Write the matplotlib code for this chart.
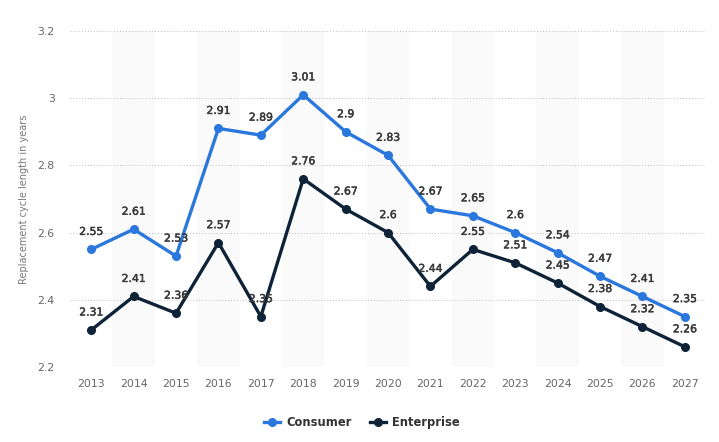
import numpy as np
import matplotlib

matplotlib.use("Agg")
import matplotlib.pyplot as plt
import matplotlib.patheffects as pe
from matplotlib.lines import Line2D

# ---------- data ----------
YEARS = ["2013", "2014", "2015", "2016", "2017", "2018", "2019", "2020",
         "2021", "2022", "2023", "2024", "2025", "2026", "2027"]
CONSUMER = [2.55, 2.61, 2.53, 2.91, 2.89, 3.01, 2.9, 2.83,
            2.67, 2.65, 2.6, 2.54, 2.47, 2.41, 2.35]
ENTERPRISE = [2.31, 2.41, 2.36, 2.57, 2.35, 2.76, 2.67, 2.6,
              2.44, 2.55, 2.51, 2.45, 2.38, 2.32, 2.26]
Y_TICKS = [2.2, 2.4, 2.6, 2.8, 3.0, 3.2]
Y_TICK_LABELS = ["2.2", "2.4", "2.6", "2.8", "3", "3.2"]

BLUE = "#2a77dd"
NAVY = "#0e2337"
LABEL_C = "#3a3a3a"

plt.rcParams["font.family"] = ["DejaVu Sans"]

fig = plt.figure(figsize=(7.19, 4.42), dpi=100)
ax = fig.add_axes([0.0974, 0.1697, 0.8846, 0.7602])

x = np.arange(len(YEARS))

# alternating column bands
for i in x:
    if i % 2 == 1:
        ax.axvspan(i - 0.5, i + 0.5, color="#fafafa", zorder=0, lw=0)

for v in Y_TICKS:
    ax.axhline(v, color="#bdbdbd", lw=0.7, ls=(0, (1, 2)), zorder=1)

ax.plot(x, CONSUMER, color=BLUE, lw=2.4, marker="o", ms=5.5, zorder=4)
ax.plot(x, ENTERPRISE, color=NAVY, lw=2.4, marker="o", ms=5.5, zorder=3)


def fmt(v):
    return f"{v:g}"


# medium-weight look: normal font with a hairline stroke
medium = [pe.withStroke(linewidth=0.35, foreground=LABEL_C)]
for series in (CONSUMER, ENTERPRISE):
    for xi, v in zip(x, series):
        ax.annotate(fmt(v), (xi, v), xytext=(0, 9), textcoords="offset points",
                    ha="center", va="bottom", fontsize=7.8, color=LABEL_C,
                    path_effects=medium, zorder=5)

ax.set_xlim(-0.5, len(YEARS) - 0.5)
ax.set_ylim(2.2, 3.2)
ax.set_xticks(x)
ax.set_xticklabels(YEARS)
ax.set_yticks(Y_TICKS)
ax.set_yticklabels(Y_TICK_LABELS)
ax.tick_params(axis="both", length=0, labelsize=7.8, labelcolor="#666666")
ax.tick_params(axis="x", pad=9)
ax.tick_params(axis="y", pad=11)
for s in ax.spines.values():
    s.set_visible(False)

ax.set_ylabel("Replacement cycle length in years", fontsize=7, color="#777777",
              labelpad=6)

handles = [
    Line2D([0], [0], color=BLUE, lw=2.4, marker="o", ms=5.5),
    Line2D([0], [0], color=NAVY, lw=2.4, marker="o", ms=5.5),
]
leg = fig.legend(handles, ["Consumer", "Enterprise"], loc="center",
                 bbox_to_anchor=(0.503, 0.043), ncol=2, frameon=False,
                 fontsize=8.3, handlelength=1.4, columnspacing=1.6,
                 handletextpad=0.5)
for t in leg.get_texts():
    t.set_color("#333333")
    t.set_fontweight("bold")

fig.savefig("out.png", dpi=100)
